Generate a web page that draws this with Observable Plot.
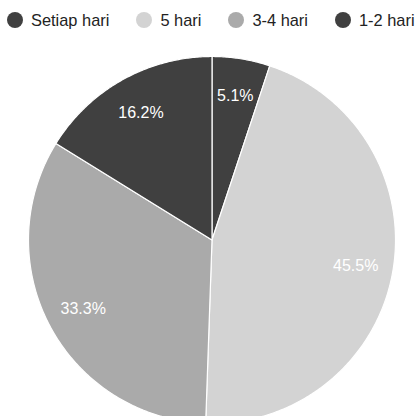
<!DOCTYPE html>
<html>
<head>
<meta charset="utf-8">
<script src="https://cdn.jsdelivr.net/npm/d3@7"></script>
<script src="https://cdn.jsdelivr.net/npm/@observablehq/plot@0.6"></script>
<style>
  html, body { margin: 0; padding: 0; background: #fff; overflow: hidden; }
  body { width: 415px; height: 416px; font-family: Arial, "Liberation Sans", sans-serif; }
  #legend { height: 40px; display: flex; align-items: center; padding-left: 7px; box-sizing: border-box; font-size: 16.4px; color: #222; }
  .item { display: flex; align-items: center; margin-right: 27px; white-space: nowrap; }
  .sw { width: 16px; height: 16px; border-radius: 50%; margin-right: 8px; }
  #chart svg { display: block; }
</style>
</head>
<body>
<div id="legend"></div>
<div id="chart"></div>
<script>
const categories = ["Setiap hari", "5 hari", "3-4 hari", "1-2 hari"];
const values = [5.1, 45.5, 33.3, 16.2];
const colors = ["#404040", "#d3d3d3", "#aaaaaa", "#404040"];
const labels = ["5.1%", "45.5%", "33.3%", "16.2%"];

const W = 415, H = 399;
const cx = 211.5, cy = 199.5, R = 183.5, labelR = 146;

// legend
const legend = document.getElementById("legend");
categories.forEach((c, i) => {
  const it = document.createElement("div");
  it.className = "item";
  const sw = document.createElement("div");
  sw.className = "sw";
  sw.style.background = colors[i];
  const t = document.createElement("span");
  t.textContent = c;
  it.appendChild(sw); it.appendChild(t);
  legend.appendChild(it);
});

// wedge geometry from data
const arcs = d3.pie().sort(null).value(d => d)(values);
const wedgePts = [];
const labelPts = [];
arcs.forEach((a, i) => {
  const key = categories[i];
  wedgePts.push({key, x: 0, y: 0});
  const n = Math.max(2, Math.ceil((a.endAngle - a.startAngle) / (Math.PI / 360)));
  for (let k = 0; k <= n; k++) {
    const t = a.startAngle + (a.endAngle - a.startAngle) * k / n;
    wedgePts.push({key, x: R * Math.sin(t), y: -R * Math.cos(t)});
  }
  wedgePts.push({key, x: 0, y: 0});
  const m = (a.startAngle + a.endAngle) / 2;
  labelPts.push({label: labels[i], x: labelR * Math.sin(m), y: -labelR * Math.cos(m)});
});

const plot = Plot.plot({
  width: W,
  height: H,
  margin: 0,
  x: {domain: [-cx, W - cx], range: [0, W], axis: null},
  y: {domain: [-cy, H - cy], range: [0, H], axis: null},
  color: {domain: categories, range: colors},
  marks: [
    Plot.line(wedgePts, {x: "x", y: "y", z: "key", fill: "key", stroke: "#fff", strokeWidth: 1.2, curve: "linear"}),
    Plot.text(labelPts, {x: "x", y: "y", text: "label", fill: "#fff", fontSize: 16, fontFamily: "Arial, 'Liberation Sans', sans-serif"})
  ]
});
document.getElementById("chart").appendChild(plot);
</script>
</body>
</html>
